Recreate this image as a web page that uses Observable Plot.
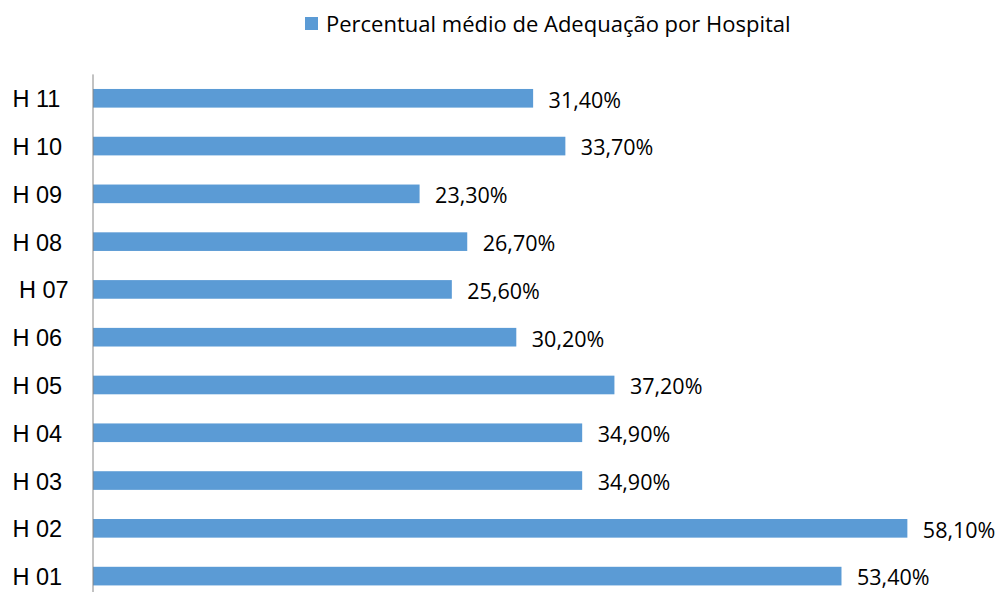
<!DOCTYPE html>
<html>
<head>
<meta charset="utf-8">
<script src="https://cdn.jsdelivr.net/npm/d3@7"></script>
<script src="https://cdn.jsdelivr.net/npm/@observablehq/plot@0.6"></script>
<style>
  html, body { margin: 0; padding: 0; background: #fff; overflow: hidden; }
  #legend { height: 48px; box-sizing: border-box; padding-left: 305px; padding-bottom: 2px;
    font-family: "Open Sans", sans-serif; font-size: 22px; color: #000; display: flex; align-items: center; }
  #legend .sw { width: 13px; height: 13px; background: #5b9bd5; margin-right: 8px; }
  #chart { height: 552px; }
</style>
</head>
<body>
<div id="legend"><span class="sw"></span><span>Percentual médio de Adequação por Hospital</span></div>
<div id="chart"></div>
<script>
const hospitals = ["H 11", "H 10", "H 09", "H 08", "H 07", "H 06", "H 05", "H 04", "H 03", "H 02", "H 01"];
const tickLabels = ["H 11", "H 10", "H 09", "H 08", "\u00a0H 07", "H 06", "H 05", "H 04", "H 03", "H 02", "H 01"];
const values = [31.4, 33.7, 23.3, 26.7, 25.6, 30.2, 37.2, 34.9, 34.9, 58.1, 53.4];
const valueLabels = ["31,40%", "33,70%", "23,30%", "26,70%", "25,60%", "30,20%", "37,20%", "34,90%", "34,90%", "58,10%", "53,40%"];

const data = hospitals.map((h, i) => ({hospital: h, value: values[i], label: valueLabels[i]}));
const tickMap = new Map(hospitals.map((h, i) => [h, tickLabels[i]]));

const chart = Plot.plot({
  width: 999,
  height: 552,
  marginLeft: 93,
  marginRight: 65,
  marginTop: 26.4,
  marginBottom: 0,
  style: {background: "#fff", overflow: "visible"},
  x: {domain: [0, 60], axis: null},
  y: {domain: hospitals, paddingInner: 0.61, paddingOuter: 0.305, round: false, axis: null, label: null},
  marks: [
    Plot.barX(data, {x: "value", y: "hospital", fill: "#5b9bd5"}),
    Plot.ruleX([0], {stroke: "#868686", strokeWidth: 1, dx: -0.5}),
    Plot.axisY({
      tickSize: 0, tickPadding: 0, textAnchor: "start", dx: -81, label: null,
      tickFormat: d => tickMap.get(d),
      fontFamily: "Liberation Sans, Arial, sans-serif", fontSize: 23.5, fill: "#000", dy: 1
    }),
    Plot.text(data, {
      x: "value", y: "hospital", text: "label", textAnchor: "start", dx: 15, dy: 2,
      fontFamily: "Open Sans, sans-serif", fontSize: 21.5, fill: "#000"
    })
  ]
});
document.getElementById("chart").appendChild(chart);
</script>
</body>
</html>
